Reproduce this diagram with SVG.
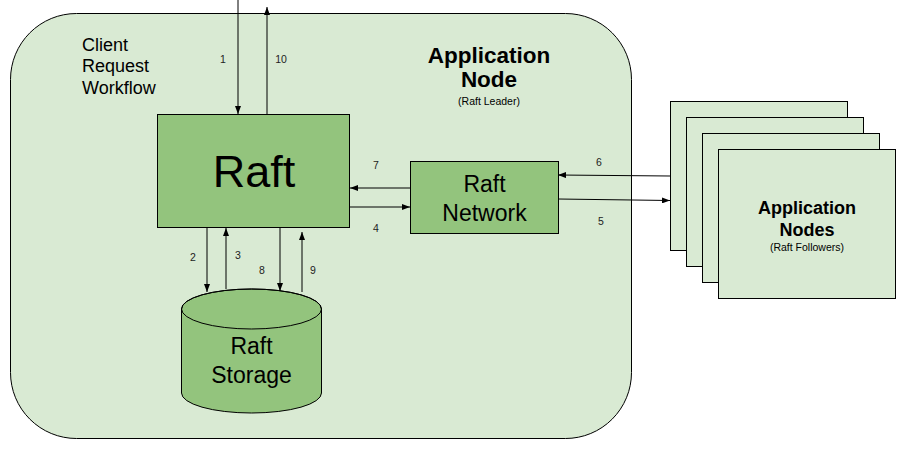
<svg xmlns="http://www.w3.org/2000/svg" width="905" height="456" viewBox="0 0 905 456">
<defs>
<marker id="ah" markerUnits="userSpaceOnUse" markerWidth="8" markerHeight="6" refX="8" refY="3" orient="auto">
<path d="M0,0 L8,3 L0,6 z" fill="#000"/>
</marker>
<style>
.box{stroke:#000;stroke-width:1}
.light{fill:#d9ead3}
.green{fill:#93c47d}
.t{font-family:"Liberation Sans",Arial,sans-serif;fill:#000}
.c{stroke:#000;stroke-width:1;fill:none;marker-end:url(#ah)}
.n{font-family:"Liberation Sans",Arial,sans-serif;font-size:10.5px;fill:#222;text-anchor:middle}
</style>
</defs>
<rect width="905" height="456" fill="#fff"/>
<g id="application-node">
<rect class="box light" x="10.5" y="13.5" width="621" height="425" rx="66" ry="66"/>
<text class="t" x="82" y="50.5" font-size="18">Client</text>
<text class="t" x="82" y="72.3" font-size="18">Request</text>
<text class="t" x="82" y="93.8" font-size="18">Workflow</text>
<text class="t" x="489" y="63" font-size="22.5" font-weight="bold" text-anchor="middle">Application</text>
<text class="t" x="489" y="86.5" font-size="22.5" font-weight="bold" text-anchor="middle">Node</text>
<text class="t" x="489" y="105" font-size="10.5" text-anchor="middle">(Raft Leader)</text>
</g>
<g id="raft">
<rect class="box green" x="157.5" y="114.5" width="192" height="113"/>
<text class="t" x="254" y="187" font-size="45" text-anchor="middle">Raft</text>
</g>
<g id="raft-network">
<rect class="box green" x="410.5" y="161.5" width="148" height="72"/>
<text class="t" x="484.5" y="192" font-size="23" text-anchor="middle">Raft</text>
<text class="t" x="484.5" y="221" font-size="23" text-anchor="middle">Network</text>
</g>
<g id="raft-storage">
<path class="box green" d="M181.5,309 A70,20 0 0 1 321.5,309 L321.5,393 A70,20 0 0 1 181.5,393 Z"/>
<ellipse class="box" cx="251.5" cy="309" rx="70" ry="20" fill="none"/>
<text class="t" x="251.5" y="354" font-size="23" text-anchor="middle">Raft</text>
<text class="t" x="251.5" y="383" font-size="23" text-anchor="middle">Storage</text>
</g>
<g id="application-nodes">
<rect class="box light" x="670.5" y="101.5" width="177" height="149"/>
<rect class="box light" x="686.5" y="117.5" width="177" height="149"/>
<rect class="box light" x="702.5" y="133.5" width="177" height="149"/>
<rect class="box light" x="718.5" y="149.5" width="177" height="149"/>
<text class="t" x="807" y="214" font-size="18" font-weight="bold" text-anchor="middle">Application</text>
<text class="t" x="807" y="236" font-size="18" font-weight="bold" text-anchor="middle">Nodes</text>
<text class="t" x="807" y="251" font-size="10.5" text-anchor="middle">(Raft Followers)</text>
</g>
<g id="connectors">
<line class="c" x1="238" y1="-2" x2="238" y2="114"/>
<line class="c" x1="267" y1="114" x2="267" y2="7"/>
<line class="c" x1="207" y1="228" x2="207" y2="292"/>
<line class="c" x1="226" y1="289" x2="226" y2="228"/>
<line class="c" x1="280" y1="228" x2="280" y2="291"/>
<line class="c" x1="302" y1="292" x2="302" y2="232"/>
<line class="c" x1="410" y1="188" x2="350" y2="188"/>
<line class="c" x1="350" y1="207" x2="410" y2="207"/>
<line class="c" x1="670" y1="176" x2="558" y2="175"/>
<line class="c" x1="558" y1="199" x2="670" y2="200.5"/>
<text class="n" x="223" y="63">1</text>
<text class="n" x="281" y="63">10</text>
<text class="n" x="193" y="261">2</text>
<text class="n" x="238" y="259">3</text>
<text class="n" x="262" y="274">8</text>
<text class="n" x="313" y="274">9</text>
<text class="n" x="376" y="169">7</text>
<text class="n" x="376" y="232">4</text>
<text class="n" x="599" y="166">6</text>
<text class="n" x="601" y="225">5</text>
</g>
</svg>
